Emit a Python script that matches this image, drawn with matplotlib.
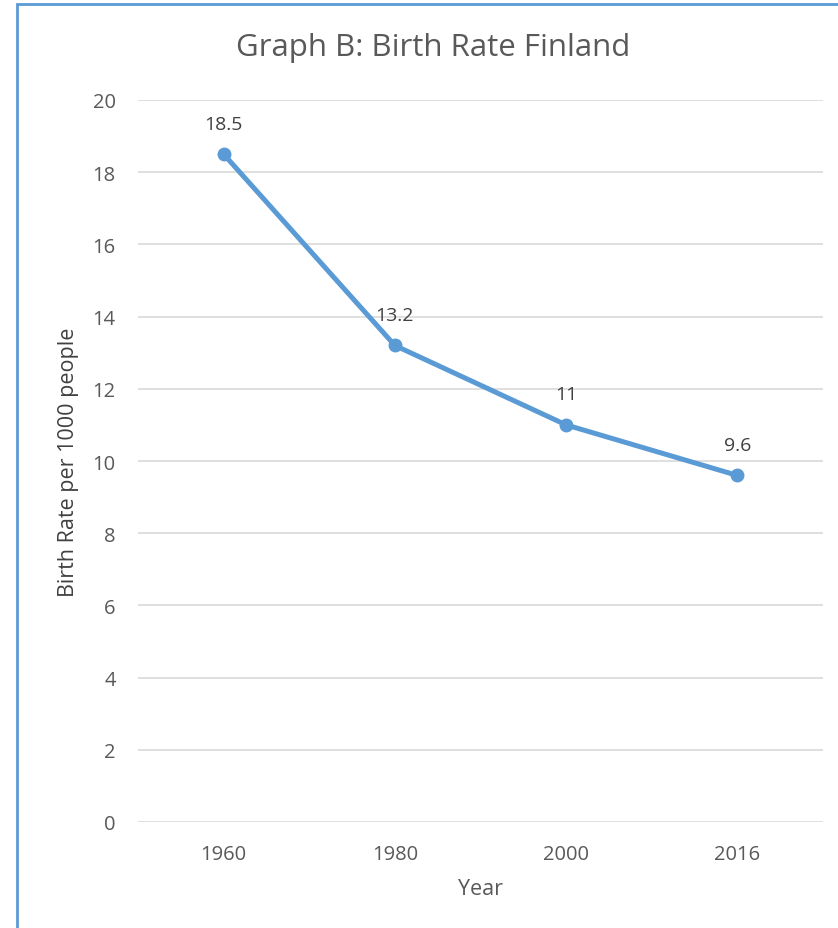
import matplotlib
matplotlib.use("Agg")
import matplotlib.pyplot as plt
from matplotlib.patches import Rectangle

years = ["1960", "1980", "2000", "2016"]
birth_rate = [18.5, 13.2, 11, 9.6]
label_texts = ["18.5", "13.2", "11", "9.6"]
y_ticks = [0, 2, 4, 6, 8, 10, 12, 14, 16, 18, 20]

plt.rcParams['font.family'] = ['Open Sans', 'DejaVu Sans']

W, H = 838, 929
fig = plt.figure(figsize=(W / 100, H / 100), dpi=100)
ax = fig.add_axes([138 / W, 1 - 823 / H, (823 - 138) / W, (823 - 101) / H])

blue = "#5B9BD5"
grey = "#595959"
x = list(range(len(years)))
ax.plot(x, birth_rate, color=blue, linewidth=3.6, marker="o", markersize=9,
        solid_capstyle="round", zorder=3)
for xi, yi, t in zip(x, birth_rate, label_texts):
    ax.annotate(t, (xi, yi), xytext=(0, 22), textcoords="offset points",
                ha="center", va="center", fontsize=14, color="#404040")

ax.set_xlim(-0.5, len(years) - 0.5)
ax.set_ylim(0, 20)
ax.set_xticks(x)
ax.set_xticklabels(years)
ax.set_yticks(y_ticks)
ax.tick_params(length=0, labelsize=14.5, colors=grey)
ax.tick_params(axis="x", pad=16)
ax.tick_params(axis="y", pad=16)
ax.yaxis.grid(True, color="#D9D9D9", linewidth=1.2)
ax.set_axisbelow(True)
for s in ax.spines.values():
    s.set_visible(False)

ax.set_xlabel("Year", fontsize=15.5, color=grey, labelpad=10)
ax.set_ylabel("Birth Rate per 1000 people", fontsize=15.5, color="#404040", labelpad=10)
fig.text(433 / W, 1 - 48 / H, "Graph B: Birth Rate Finland", ha="center", va="center",
         fontsize=22.5, color=grey)

fig.patches.append(Rectangle((17 / W, -0.1), 1.2, 1.1 - 5 / H, transform=fig.transFigure,
                             fill=False, edgecolor=blue, linewidth=2, clip_on=False))

fig.savefig("out.png", dpi=100)
